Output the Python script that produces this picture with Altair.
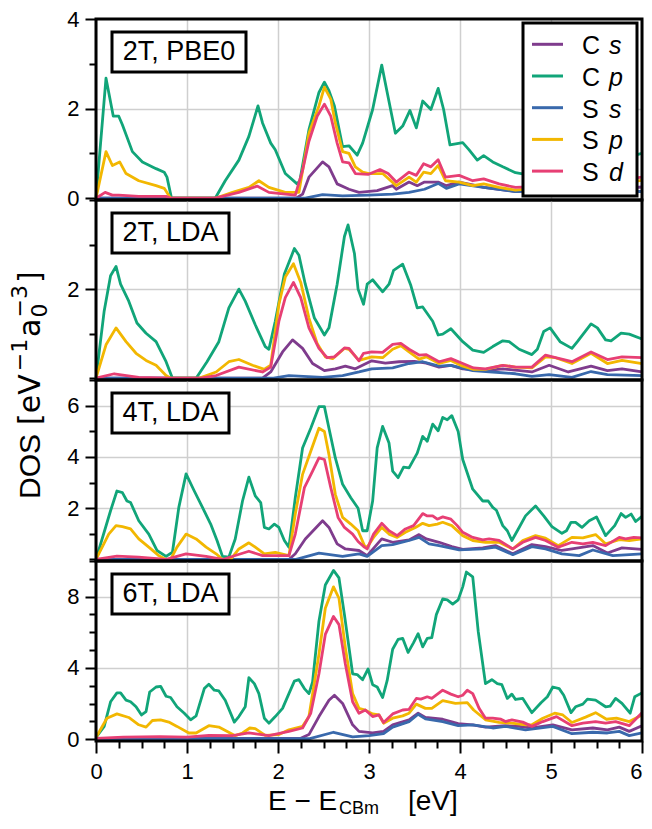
import altair as alt
import pandas as pd

FONT = "Liberation Sans"
MATH_FONT = "DejaVu Sans"

SERIES = ["C s", "C p", "S s", "S p", "S d"]
ELEMENTS = ["C", "C", "S", "S", "S"]
ORBITALS = ["s", "p", "s", "p", "d"]
COLORS = ["#7F3C8D", "#11A579", "#3969AC", "#F2B701", "#E73F74"]
PANEL_NAMES = ["2T, PBE0", "2T, LDA", "4T, LDA", "6T, LDA"]

# ---------------- panel 1 : 2T, PBE0 ----------------
P1_CS = [(0, 0), (2.20, 0), (2.27, 0.09), (2.34, 0.47), (2.49, 0.81), (2.56, 0.70), (2.65, 0.32), (2.78, 0.20),
         (2.89, 0.13), (3.09, 0.17), (3.26, 0.28), (3.30, 0.20), (3.44, 0.36), (3.53, 0.28), (3.61, 0.36),
         (3.76, 0.36), (3.85, 0.28), (3.99, 0.36), (4.14, 0.30), (4.26, 0.24), (4.43, 0.20), (4.61, 0.15),
         (4.80, 0.18), (5.00, 0.22), (5.20, 0.18), (5.40, 0.22), (5.60, 0.20), (5.80, 0.22), (6.00, 0.25)]
P1_CP = [(0, 0), (0.11, 2.68), (0.19, 1.83), (0.25, 1.83), (0.29, 1.64), (0.40, 1.04), (0.51, 0.81), (0.66, 0.66),
         (0.75, 0.58), (0.78, 0.47), (0.83, 0), (1.31, 0), (1.42, 0.39), (1.57, 0.85), (1.68, 1.38), (1.78, 2.06),
         (1.83, 1.68), (1.92, 1.23), (1.97, 1.08), (2.08, 0.55), (2.21, 0.32), (2.24, 0.39), (2.34, 1.53),
         (2.45, 2.36), (2.51, 2.59), (2.56, 2.40), (2.62, 2.06), (2.71, 1.15), (2.78, 1.17), (2.87, 0.96),
         (2.93, 1.23), (3.04, 1.98), (3.14, 2.97), (3.20, 2.36), (3.29, 1.45), (3.37, 1.61), (3.45, 1.96),
         (3.52, 1.57), (3.59, 2.17), (3.68, 1.98), (3.76, 2.45), (3.82, 1.98), (3.89, 1.19), (4.03, 1.24),
         (4.10, 1.08), (4.19, 0.85), (4.26, 0.95), (4.36, 0.81), (4.47, 0.70), (4.61, 0.57), (4.75, 0.52),
         (4.90, 0.58), (5.05, 0.75), (5.20, 0.62), (5.35, 0.72), (5.50, 0.90), (5.65, 0.76), (5.80, 0.86),
         (5.90, 0.95), (6.00, 1.00)]
P1_SS = [(0, 0), (2.30, 0), (2.49, 0.08), (2.71, 0.05), (3.00, 0.07), (3.26, 0.09), (3.44, 0.13), (3.61, 0.20),
         (3.76, 0.33), (3.85, 0.22), (3.99, 0.32), (4.26, 0.24), (4.61, 0.15), (4.80, 0.16), (5.20, 0.18),
         (5.60, 0.16), (6.00, 0.15)]
P1_SP = [(0, 0), (0.11, 1.04), (0.18, 0.73), (0.26, 0.81), (0.33, 0.55), (0.47, 0.39), (0.66, 0.28), (0.75, 0.22),
         (0.82, 0), (1.31, 0), (1.50, 0.13), (1.68, 0.24), (1.79, 0.39), (1.90, 0.24), (2.08, 0.13), (2.23, 0.13),
         (2.34, 1.45), (2.45, 2.06), (2.51, 2.48), (2.58, 2.21), (2.63, 1.68), (2.71, 1.04), (2.78, 1.00),
         (2.85, 0.70), (2.93, 0.58), (3.00, 0.55), (3.15, 0.55), (3.30, 0.28), (3.44, 0.47), (3.52, 0.36),
         (3.60, 0.58), (3.68, 0.55), (3.76, 0.73), (3.84, 0.39), (3.99, 0.36), (4.14, 0.28), (4.26, 0.32),
         (4.43, 0.24), (4.61, 0.18), (4.80, 0.22), (5.00, 0.30), (5.20, 0.26), (5.40, 0.34), (5.60, 0.30),
         (5.80, 0.35), (6.00, 0.40)]
P1_SD = [(0, 0), (0.10, 0.13), (0.18, 0.07), (0.25, 0.07), (0.47, 0.04), (0.77, 0.04), (0.82, 0), (1.31, 0),
         (1.57, 0.13), (1.77, 0.27), (1.90, 0.13), (2.19, 0.07), (2.27, 0.62), (2.34, 1.27), (2.43, 1.83),
         (2.51, 2.10), (2.58, 1.83), (2.65, 1.23), (2.71, 0.81), (2.78, 0.79), (2.85, 0.55), (2.99, 0.53),
         (3.12, 0.64), (3.21, 0.55), (3.30, 0.36), (3.44, 0.58), (3.52, 0.51), (3.60, 0.77), (3.68, 0.70),
         (3.76, 0.86), (3.84, 0.47), (3.99, 0.51), (4.14, 0.39), (4.26, 0.43), (4.43, 0.32), (4.61, 0.24),
         (4.80, 0.26), (5.00, 0.35), (5.20, 0.30), (5.40, 0.40), (5.60, 0.36), (5.80, 0.42), (6.00, 0.47)]

# ---------------- panel 2 : 2T, LDA ----------------
P2_CS = [(0, 0), (1.83, 0), (1.92, 0.14), (2.05, 0.59), (2.16, 0.86), (2.27, 0.67), (2.38, 0.33), (2.51, 0.17),
         (2.63, 0.21), (2.74, 0.27), (2.85, 0.21), (3.03, 0.39), (3.18, 0.34), (3.33, 0.37), (3.50, 0.38),
         (3.63, 0.34), (3.77, 0.25), (3.90, 0.29), (4.03, 0.21), (4.28, 0.17), (4.47, 0.21), (4.79, 0.14),
         (4.98, 0.29), (5.19, 0.14), (5.44, 0.27), (5.62, 0.17), (5.78, 0.21), (6.00, 0.14)]
P2_CP = [(0, 0), (0.09, 1.51), (0.16, 2.30), (0.22, 2.51), (0.27, 2.11), (0.36, 1.73), (0.45, 1.24), (0.55, 1.01),
         (0.66, 0.82), (0.77, 0.37), (0.84, 0), (1.10, 0), (1.22, 0.37), (1.35, 0.82), (1.46, 1.58), (1.57, 2.00),
         (1.64, 1.73), (1.75, 1.20), (1.86, 0.71), (1.90, 0.65), (1.97, 1.28), (2.07, 2.34), (2.18, 2.91),
         (2.23, 2.76), (2.30, 2.11), (2.40, 1.35), (2.51, 0.97), (2.56, 1.13), (2.65, 2.11), (2.73, 3.18),
         (2.77, 3.44), (2.84, 2.80), (2.88, 2.00), (2.94, 1.66), (2.98, 2.11), (3.04, 2.21), (3.15, 1.94),
         (3.22, 2.11), (3.27, 2.42), (3.37, 2.56), (3.46, 2.08), (3.53, 1.58), (3.59, 1.60), (3.70, 1.28),
         (3.76, 0.97), (3.81, 0.99), (3.90, 1.11), (4.03, 0.82), (4.14, 0.63), (4.26, 0.58), (4.36, 0.71),
         (4.47, 0.84), (4.54, 0.82), (4.65, 0.65), (4.79, 0.53), (4.85, 0.65), (4.92, 1.05), (4.99, 1.13),
         (5.10, 0.82), (5.23, 0.67), (5.29, 0.82), (5.44, 1.22), (5.51, 1.13), (5.60, 0.86), (5.66, 0.84),
         (5.77, 1.01), (5.86, 0.99), (6.00, 0.88)]
P2_SS = [(0, 0), (1.95, 0), (2.12, 0.06), (2.49, 0.02), (2.71, 0.06), (2.89, 0.14), (3.03, 0.21), (3.26, 0.23),
         (3.44, 0.33), (3.59, 0.37), (3.77, 0.27), (3.90, 0.29), (4.14, 0.17), (4.36, 0.14), (4.61, 0.10),
         (4.79, 0.04), (4.98, 0.08), (5.23, 0.02), (5.44, 0.15), (5.62, 0.08), (6.00, 0.06)]
P2_SP = [(0, 0), (0.11, 0.75), (0.22, 1.13), (0.33, 0.82), (0.44, 0.56), (0.55, 0.40), (0.66, 0.29), (0.77, 0.06),
         (0.82, 0), (1.13, 0), (1.32, 0.14), (1.46, 0.37), (1.57, 0.42), (1.72, 0.29), (1.85, 0.20), (1.92, 0.29),
         (2.01, 1.66), (2.08, 2.27), (2.17, 2.57), (2.25, 2.15), (2.34, 1.35), (2.43, 0.78), (2.52, 0.48),
         (2.60, 0.44), (2.73, 0.67), (2.78, 0.65), (2.89, 0.40), (3.03, 0.48), (3.15, 0.46), (3.26, 0.65),
         (3.35, 0.73), (3.44, 0.59), (3.55, 0.43), (3.63, 0.48), (3.77, 0.33), (3.90, 0.40), (4.03, 0.27),
         (4.15, 0.20), (4.28, 0.20), (4.47, 0.29), (4.61, 0.25), (4.79, 0.23), (4.94, 0.48), (5.05, 0.46),
         (5.23, 0.33), (5.44, 0.56), (5.62, 0.33), (5.78, 0.40), (6.00, 0.33)]
P2_SD = [(0, 0), (0.20, 0.10), (0.47, 0.02), (0.80, 0), (1.15, 0), (1.32, 0.06), (1.57, 0.25), (1.83, 0.14),
         (1.92, 0.25), (2.01, 1.28), (2.08, 1.81), (2.17, 2.15), (2.25, 1.81), (2.34, 1.13), (2.45, 0.67),
         (2.54, 0.46), (2.62, 0.48), (2.73, 0.68), (2.78, 0.67), (2.89, 0.39), (2.94, 0.56), (3.03, 0.59),
         (3.15, 0.58), (3.26, 0.76), (3.35, 0.78), (3.44, 0.65), (3.55, 0.52), (3.63, 0.53), (3.77, 0.37),
         (3.90, 0.44), (4.03, 0.33), (4.15, 0.23), (4.28, 0.21), (4.47, 0.29), (4.61, 0.25), (4.79, 0.25),
         (4.94, 0.52), (5.05, 0.46), (5.23, 0.37), (5.44, 0.59), (5.62, 0.42), (5.78, 0.48), (6.00, 0.46)]

# ---------------- panel 3 : 4T, LDA ----------------
P3_CS = [(0, 0), (2.12, 0), (2.19, 0.22), (2.30, 0.80), (2.49, 1.51), (2.56, 1.25), (2.65, 0.61), (2.74, 0.41),
         (2.89, 0.35), (2.98, 0.15), (3.14, 0.80), (3.26, 0.67), (3.44, 0.76), (3.55, 0.97), (3.63, 0.80),
         (3.77, 0.67), (3.91, 0.50), (4.03, 0.39), (4.25, 0.45), (4.39, 0.54), (4.58, 0.22), (4.79, 0.58),
         (4.94, 0.50), (5.12, 0.35), (5.23, 0.41), (5.46, 0.54), (5.62, 0.25), (5.78, 0.45), (6.00, 0.39)]
P3_CP = [(0, 0), (0.16, 1.90), (0.23, 2.67), (0.29, 2.61), (0.34, 2.28), (0.38, 2.22), (0.47, 1.51), (0.58, 0.99),
         (0.67, 0.35), (0.77, 0.12), (0.84, 0.28), (0.91, 2.03), (0.99, 3.34), (1.08, 2.67), (1.17, 2.03),
         (1.26, 1.38), (1.33, 0.74), (1.39, 0.12), (1.46, 0.09), (1.53, 0.80), (1.61, 2.28), (1.68, 3.21),
         (1.75, 2.48), (1.81, 2.22), (1.85, 1.25), (1.90, 1.19), (1.96, 1.38), (2.01, 1.25), (2.07, 0.74),
         (2.12, 0.48), (2.19, 2.41), (2.27, 4.35), (2.36, 5.12), (2.45, 5.96), (2.51, 5.96), (2.56, 5.12),
         (2.63, 3.96), (2.71, 2.93), (2.80, 2.41), (2.88, 2.00), (2.93, 1.12), (2.98, 1.12), (3.04, 2.28),
         (3.09, 4.35), (3.15, 5.19), (3.22, 4.54), (3.26, 3.45), (3.32, 3.19), (3.38, 3.60), (3.44, 3.57),
         (3.53, 4.15), (3.59, 4.80), (3.64, 4.61), (3.70, 5.28), (3.76, 5.02), (3.81, 5.54), (3.86, 5.45),
         (3.91, 5.61), (3.98, 4.99), (4.03, 3.90), (4.14, 2.74), (4.25, 2.28), (4.31, 2.28), (4.36, 2.03),
         (4.40, 1.92), (4.47, 1.32), (4.52, 1.12), (4.57, 0.74), (4.63, 1.12), (4.72, 1.70), (4.83, 2.09),
         (4.92, 1.70), (5.01, 1.28), (5.12, 1.02), (5.17, 1.12), (5.22, 1.45), (5.27, 1.45), (5.34, 1.25),
         (5.42, 1.51), (5.50, 1.66), (5.60, 0.93), (5.70, 1.32), (5.77, 1.79), (5.82, 1.64), (5.88, 1.77),
         (5.93, 1.48), (6.00, 1.68)]
P3_SS = [(0, 0), (2.20, 0), (2.45, 0.25), (2.71, 0.12), (2.89, 0.22), (2.98, 0.12), (3.14, 0.54), (3.26, 0.58),
         (3.44, 0.74), (3.55, 0.86), (3.66, 0.61), (3.77, 0.54), (3.99, 0.37), (4.25, 0.41), (4.39, 0.48),
         (4.58, 0.19), (4.79, 0.50), (4.94, 0.41), (5.12, 0.22), (5.31, 0.15), (5.46, 0.37), (5.68, 0.15),
         (6.00, 0.22)]
P3_SP = [(0, 0), (0.14, 0.99), (0.22, 1.32), (0.29, 1.28), (0.38, 1.19), (0.47, 0.80), (0.58, 0.48), (0.69, 0.15),
         (0.77, 0), (0.82, 0), (0.89, 0.48), (0.99, 0.99), (1.10, 0.80), (1.21, 0.48), (1.32, 0.22), (1.39, 0),
         (1.48, 0), (1.57, 0.41), (1.68, 0.65), (1.75, 0.48), (1.85, 0.22), (1.97, 0.28), (2.12, 0.15),
         (2.19, 1.77), (2.27, 3.32), (2.36, 4.22), (2.45, 5.12), (2.51, 4.99), (2.56, 4.09), (2.63, 2.54),
         (2.71, 1.64), (2.80, 1.38), (2.88, 1.12), (2.95, 0.54), (2.98, 0.48), (3.05, 0.86), (3.14, 1.25),
         (3.22, 0.99), (3.31, 0.86), (3.40, 1.06), (3.51, 1.25), (3.59, 1.41), (3.66, 1.32), (3.75, 1.38),
         (3.81, 1.45), (3.91, 1.32), (4.03, 0.93), (4.14, 0.74), (4.28, 0.67), (4.43, 0.67), (4.58, 0.41),
         (4.69, 0.74), (4.83, 0.93), (4.94, 0.83), (5.08, 0.54), (5.23, 0.86), (5.35, 0.84), (5.49, 0.97),
         (5.60, 0.61), (5.75, 0.77), (5.86, 0.74), (6.00, 0.80)]
P3_SD = [(0, 0), (0.23, 0.13), (0.47, 0.09), (0.77, 0), (0.99, 0.22), (1.21, 0.12), (1.39, 0), (1.68, 0.32),
         (1.83, 0.15), (2.12, 0.15), (2.19, 0.99), (2.29, 2.80), (2.38, 3.45), (2.45, 3.96), (2.51, 3.90),
         (2.58, 2.80), (2.66, 1.64), (2.73, 1.25), (2.82, 0.99), (2.88, 0.70), (2.95, 0.48), (2.98, 0.41),
         (3.05, 0.99), (3.14, 1.41), (3.22, 1.12), (3.31, 0.93), (3.40, 1.19), (3.49, 1.32), (3.59, 1.79),
         (3.64, 1.70), (3.70, 1.70), (3.75, 1.57), (3.81, 1.66), (3.90, 1.57), (3.97, 1.32), (4.03, 1.06),
         (4.14, 0.86), (4.25, 0.76), (4.32, 0.80), (4.43, 0.74), (4.58, 0.41), (4.69, 0.67), (4.83, 0.86),
         (4.94, 0.74), (5.08, 0.48), (5.23, 0.67), (5.35, 0.61), (5.46, 0.67), (5.60, 0.54), (5.75, 0.86),
         (5.82, 0.80), (5.91, 0.86), (6.00, 0.84)]

# ---------------- panel 4 : 6T, LDA ----------------
P4_CS = [(0, 0.03), (2.25, 0.05), (2.34, 0.26), (2.45, 1.27), (2.56, 2.19), (2.62, 2.47), (2.71, 2.01),
         (2.82, 0.81), (2.89, 0.44), (3.04, 0.35), (3.16, 0.44), (3.26, 0.81), (3.44, 1.09), (3.54, 1.46),
         (3.62, 1.22), (3.81, 1.12), (3.98, 0.87), (4.14, 0.81), (4.28, 0.68), (4.50, 0.76), (4.65, 0.72),
         (4.79, 0.63), (5.02, 0.81), (5.23, 0.53), (5.46, 0.63), (5.62, 0.53), (5.75, 0.68), (5.86, 0.44),
         (6.00, 0.76)]
P4_CP = [(0, 0.10), (0.09, 0.72), (0.16, 2.10), (0.23, 2.60), (0.27, 2.60), (0.33, 2.19), (0.38, 2.10),
         (0.44, 1.82), (0.50, 1.36), (0.55, 1.55), (0.59, 2.65), (0.66, 2.93), (0.71, 2.97), (0.77, 2.41),
         (0.82, 2.34), (0.89, 1.82), (0.97, 1.46), (1.04, 1.09), (1.10, 1.31), (1.19, 2.84), (1.24, 3.08),
         (1.30, 2.75), (1.35, 2.71), (1.42, 2.19), (1.52, 0.96), (1.57, 1.27), (1.64, 1.82), (1.68, 3.45),
         (1.74, 3.12), (1.79, 2.56), (1.85, 1.18), (1.90, 0.90), (1.97, 1.27), (2.05, 1.73), (2.12, 2.56),
         (2.18, 3.26), (2.23, 3.34), (2.29, 2.84), (2.34, 2.56), (2.38, 3.21), (2.45, 6.62), (2.52, 8.65),
         (2.61, 9.47), (2.67, 9.05), (2.73, 6.99), (2.82, 3.67), (2.87, 3.63), (2.93, 3.34), (2.99, 3.94),
         (3.04, 3.06), (3.09, 2.93), (3.15, 2.34), (3.20, 3.30), (3.26, 5.05), (3.32, 5.60), (3.37, 5.66),
         (3.43, 4.87), (3.49, 5.42), (3.54, 5.92), (3.59, 5.18), (3.64, 5.66), (3.69, 5.70), (3.74, 6.99),
         (3.81, 7.87), (3.86, 7.82), (3.92, 7.58), (3.98, 7.82), (4.03, 8.55), (4.07, 9.38), (4.14, 9.11),
         (4.20, 6.06), (4.28, 3.12), (4.35, 3.34), (4.41, 3.12), (4.46, 3.06), (4.52, 2.29), (4.57, 2.53),
         (4.61, 2.23), (4.69, 2.29), (4.79, 1.49), (4.89, 2.05), (4.96, 2.38), (5.02, 2.93), (5.09, 2.84),
         (5.14, 2.47), (5.22, 1.49), (5.27, 1.82), (5.35, 1.97), (5.40, 2.25), (5.49, 2.19), (5.60, 1.82),
         (5.65, 1.86), (5.71, 2.29), (5.78, 2.01), (5.87, 1.46), (5.92, 2.38), (6.00, 2.60)]
P4_SS = [(0, 0.02), (2.35, 0.03), (2.61, 0.39), (2.82, 0.13), (3.00, 0.20), (3.16, 0.31), (3.26, 0.68),
         (3.44, 0.99), (3.54, 1.40), (3.62, 1.14), (3.81, 0.99), (3.98, 0.76), (4.14, 0.81), (4.36, 0.63),
         (4.50, 0.72), (4.72, 0.53), (5.02, 0.72), (5.23, 0.31), (5.46, 0.39), (5.62, 0.35), (5.75, 0.44),
         (5.86, 0.20), (6.00, 0.35)]
P4_SP = [(0, 0.10), (0.12, 1.18), (0.23, 1.42), (0.36, 1.22), (0.47, 0.81), (0.55, 0.68), (0.62, 1.05),
         (0.71, 1.09), (0.80, 0.96), (0.89, 0.72), (1.02, 0.35), (1.10, 0.35), (1.24, 0.76), (1.35, 0.68),
         (1.53, 0.20), (1.61, 0.35), (1.69, 0.63), (1.75, 0.59), (1.86, 0.22), (2.01, 0.26), (2.12, 0.53),
         (2.27, 0.72), (2.34, 1.27), (2.45, 4.77), (2.52, 7.35), (2.61, 8.55), (2.67, 7.91), (2.74, 5.14),
         (2.82, 2.56), (2.89, 1.73), (2.95, 1.65), (3.04, 1.42), (3.11, 1.36), (3.16, 0.90), (3.26, 1.18),
         (3.37, 1.31), (3.44, 1.46), (3.52, 1.97), (3.62, 1.73), (3.69, 1.73), (3.81, 2.16), (3.95, 2.01),
         (4.08, 2.05), (4.15, 1.64), (4.28, 1.09), (4.43, 0.94), (4.57, 0.90), (4.72, 0.81), (4.79, 0.81),
         (4.91, 1.18), (5.04, 1.46), (5.13, 1.36), (5.23, 0.94), (5.38, 1.24), (5.49, 1.49), (5.61, 1.12),
         (5.72, 1.18), (5.86, 0.99), (6.00, 1.36)]
P4_SD = [(0, 0.05), (0.30, 0.12), (0.70, 0.15), (1.00, 0.12), (1.24, 0.22), (1.50, 0.20), (1.68, 0.35),
         (1.90, 0.20), (2.12, 0.44), (2.27, 0.63), (2.36, 1.46), (2.45, 3.67), (2.52, 5.88), (2.61, 6.89),
         (2.67, 6.43), (2.74, 4.22), (2.82, 2.10), (2.89, 1.46), (2.96, 1.64), (3.04, 1.27), (3.11, 1.36),
         (3.16, 0.94), (3.26, 1.42), (3.37, 1.64), (3.44, 1.68), (3.52, 2.29), (3.57, 2.25), (3.64, 2.38),
         (3.69, 2.29), (3.81, 2.75), (3.90, 2.53), (3.98, 2.38), (4.03, 2.47), (4.08, 2.75), (4.14, 2.56),
         (4.21, 1.73), (4.28, 1.18), (4.36, 1.18), (4.45, 1.12), (4.50, 0.99), (4.57, 1.09), (4.69, 0.96),
         (4.79, 0.72), (4.91, 0.99), (5.06, 1.27), (5.23, 0.76), (5.35, 0.90), (5.49, 0.99), (5.60, 0.90),
         (5.71, 0.99), (5.86, 0.76), (6.00, 1.49)]

PANEL_DATA = [
    [P1_CS, P1_CP, P1_SS, P1_SP, P1_SD],
    [P2_CS, P2_CP, P2_SS, P2_SP, P2_SD],
    [P3_CS, P3_CP, P3_SS, P3_SP, P3_SD],
    [P4_CS, P4_CP, P4_SS, P4_SP, P4_SD],
]

Y_DOMAINS = [[-0.04, 4], [-0.04, 4], [-0.06, 7], [-0.1, 10]]
Y_TICKS = [[0, 1, 2, 3, 4], [0, 1, 2, 3, 4], list(range(8)), list(range(11))]
Y_LABELED = [[0, 2, 4], [2], [2, 4, 6], [0, 4, 8]]
Y_GRID = [[2], [2], [2, 4, 6], [4, 8]]
X_TICKS = [i * 0.25 for i in range(25)]

# ---------------- layout ----------------
W = 546
HEIGHTS = [181, 180, 181, 180]
BOX_W = [134, 117, 117, 117]
ONE = pd.DataFrame({"a": [0]})


def in_test(vals):
    return " || ".join(f"datum.value === {v}" for v in vals)


def y_axis(k):
    lab = in_test(Y_LABELED[k])
    grd = in_test(Y_GRID[k])
    return alt.Axis(values=Y_TICKS[k], title=None, domain=False,
                    labelExpr=f"({lab}) ? '' + datum.value : ''",
                    tickSize={"condition": {"test": lab, "value": 11}, "value": 7},
                    gridOpacity={"condition": {"test": grd, "value": 1}, "value": 0},
                    labelPadding=6)


def x_axis(bottom):
    if bottom:
        t = "datum.value % 1 === 0"
        return alt.Axis(values=X_TICKS, title=None, domain=False,
                        labelExpr=f"{t} ? '' + datum.value : ''",
                        tickSize={"condition": {"test": t, "value": 12}, "value": 7},
                        gridOpacity={"condition": {"test": t, "value": 1}, "value": 0},
                        labelAlign={"condition": {"test": "datum.value === 6", "value": "right"},
                                    "value": "center"},
                        labelPadding=8, labelFlush=False)
    return alt.Axis(values=list(range(7)), title=None, domain=False, labels=False, ticks=False)


def txt(text, x, y, size, font=FONT, **kw):
    return alt.Chart(ONE).mark_text(text=text, font=font, fontSize=size, color="black", **kw).encode(
        x=alt.value(x), y=alt.value(y))


def panel(k):
    H = HEIGHTS[k]
    xs = alt.Scale(domain=[0, 6], nice=False, zero=False)
    ys = alt.Scale(domain=Y_DOMAINS[k], nice=False, zero=False)
    xa = x_axis(k == 3)
    ya = y_axis(k)
    layers = []
    for color, pts in zip(COLORS, PANEL_DATA[k]):
        df = pd.DataFrame(pts, columns=["E", "DOS"])
        layers.append(
            alt.Chart(df).mark_line(strokeWidth=2.8, strokeJoin="round", color=color).encode(
                x=alt.X("E:Q", scale=xs, axis=xa),
                y=alt.Y("DOS:Q", scale=ys, axis=ya),
            )
        )
    # panel label box
    bw = BOX_W[k]
    layers.append(alt.Chart(ONE).mark_rect(fill="white", stroke="black", strokeWidth=3).encode(
        x=alt.value(16), x2=alt.value(16 + bw), y=alt.value(13), y2=alt.value(53)))
    layers.append(txt(PANEL_NAMES[k], 16 + bw / 2, 32.5, 27, align="center", baseline="middle"))

    if k == 0:
        layers.append(alt.Chart(ONE).mark_rect(fill="white", stroke="black", strokeWidth=3).encode(
            x=alt.value(427), x2=alt.value(541), y=alt.value(4), y2=alt.value(177)))
        for i, (el, orb, col) in enumerate(zip(ELEMENTS, ORBITALS, COLORS)):
            py = 25.3 + i * 31.7
            layers.append(alt.Chart(ONE).mark_rule(strokeWidth=3, color=col).encode(
                x=alt.value(436), x2=alt.value(467), y=alt.value(py)))
            layers.append(txt(el, 486, py + 2, 25, align="left", baseline="middle"))
            layers.append(txt(orb, 513, py + 2, 25, align="left", baseline="middle", fontStyle="italic"))

    if k == 2:
        # y title, rotated, built from pieces (super/subscripts)
        main_x, sup_x, sub_x = -56, -69, -49
        pieces = [("DOS", FONT, 30, main_x, 119), ("[eV", MATH_FONT, 30, main_x, 45),
                  ("\u22121", MATH_FONT, 22, sup_x, -8.7), ("a", MATH_FONT, 30, main_x, -43.1),
                  ("0", MATH_FONT, 22, sub_x, -62.5), ("\u22123", MATH_FONT, 22, sup_x, -62.5),
                  ("]", MATH_FONT, 30, main_x, -96.9)]
        for t, f, s, px, py in pieces:
            layers.append(txt(t, px, py, s, font=f, angle=270, align="left", baseline="alphabetic"))

    if k == 3:
        layers.append(txt("E \u2212 E", 172, 249, 28, align="left", baseline="alphabetic"))
        layers.append(txt("CBm", 243, 253, 18, align="left", baseline="alphabetic"))
        layers.append(txt("[eV]", 312, 249, 28, align="left", baseline="alphabetic"))

    layers.append(alt.Chart(ONE).mark_rect(fillOpacity=0, stroke="black", strokeWidth=3).encode(
        x=alt.value(0), x2=alt.value(W), y=alt.value(0), y2=alt.value(H)))
    return alt.layer(*layers).properties(width=W, height=H)


chart = alt.vconcat(*[panel(k) for k in range(4)], spacing=0, bounds="flush", padding=0).configure_axis(
    labelFont=FONT, labelFontSize=22, labelColor="black", tickColor="black", tickWidth=2,
    gridColor="#cfcfcf", gridWidth=1.5,
).configure_view(stroke=None)

chart.save("out.html", embed_options={"renderer": "svg", "actions": False})
